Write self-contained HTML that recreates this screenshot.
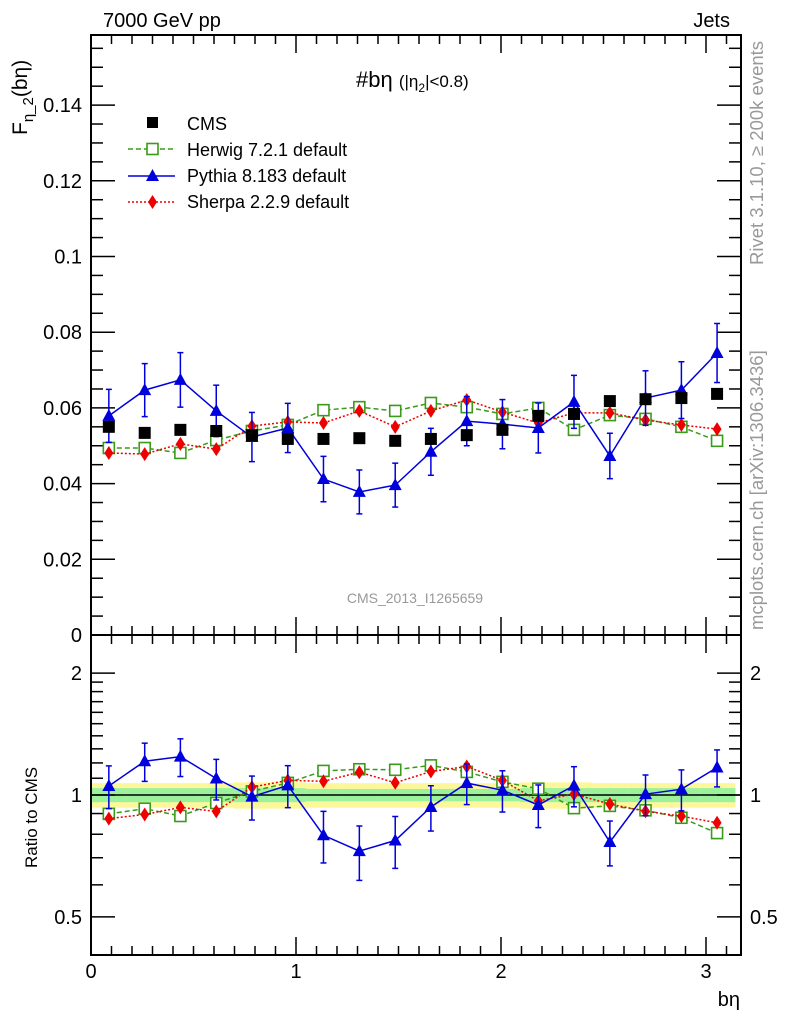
<!DOCTYPE html>
<html><head><meta charset="utf-8"><style>
body{margin:0;background:#fff;width:786px;height:1024px;overflow:hidden}
svg{display:block;font-family:"Liberation Sans",sans-serif}
</style></head><body>
<svg id="c" width="786" height="1024" xmlns="http://www.w3.org/2000/svg"></svg>
<script>
const xCenters=[0.087,0.262,0.436,0.611,0.785,0.960,1.134,1.309,1.484,1.658,1.833,2.007,2.182,2.356,2.531,2.705,2.880,3.054];
const cmsVals=[0.0550,0.0534,0.0542,0.0539,0.0528,0.0518,0.0518,0.0520,0.0513,0.0518,0.0528,0.0542,0.0579,0.0584,0.0618,0.0623,0.0626,0.0637];
const herwigVals=[0.0494,0.0494,0.0481,0.0515,0.0539,0.0555,0.0594,0.0602,0.0592,0.0613,0.0602,0.0584,0.0600,0.0542,0.0581,0.0571,0.0550,0.0513];
const pythiaVals=[0.0579,0.0647,0.0674,0.0592,0.0523,0.0547,0.0412,0.0378,0.0396,0.0484,0.0565,0.0557,0.0547,0.0616,0.0473,0.0626,0.0647,0.0745];
const pythiaErr=[0.0070,0.0070,0.0072,0.0068,0.0065,0.0065,0.0060,0.0058,0.0058,0.0062,0.0065,0.0065,0.0066,0.0070,0.0060,0.0072,0.0075,0.0078];
const sherpaVals=[0.0481,0.0478,0.0505,0.0491,0.0552,0.0563,0.0560,0.0592,0.0550,0.0592,0.0621,0.0589,0.0560,0.0587,0.0587,0.0568,0.0555,0.0544];
const bandInner=[0.04,0.04,0.04,0.04,0.04,0.04,0.035,0.035,0.035,0.035,0.035,0.035,0.04,0.04,0.04,0.04,0.04,0.04];
const bandOuter=[0.07,0.07,0.07,0.07,0.075,0.075,0.07,0.07,0.07,0.07,0.07,0.07,0.075,0.075,0.07,0.07,0.07,0.07];
const mainTicks=[0,0.02,0.04,0.06,0.08,0.1,0.12,0.14];
const ratioTicks=[0.5,1,2];
const xTicks=[0,1,2,3];

const NS="http://www.w3.org/2000/svg",svg=document.getElementById('c');
const L=91,R=741,MT=35,MB=635,RB=955;
const X=v=>L+v*205;
const Y=v=>MB-v/0.02*75.7;
const YR=v=>795-Math.log10(v)*405;
function el(t,a,p){const e=document.createElementNS(NS,t);for(const k in a)e.setAttribute(k,a[k]);(p||svg).appendChild(e);return e;}
function txt(s,x,y,a){const e=el('text',Object.assign({x:x,y:y,'font-size':20,fill:'#000'},a||{}));e.textContent=s;return e;}

const bw=Math.PI/18;
xCenters.forEach((c,i)=>{
 const o=el('rect',{x:X(c-bw/2),y:YR(1+bandOuter[i]),width:X(bw)-L+0.5,height:YR(1-bandOuter[i])-YR(1+bandOuter[i]),fill:'#fdf79c'});
 
 
 const n=el('rect',{x:X(c-bw/2),y:YR(1+bandInner[i]),width:X(bw)-L+0.5,height:YR(1-bandInner[i])-YR(1+bandInner[i]),fill:'#9cf19c'});
 
 
});
el('line',{x1:L,x2:R,y1:YR(1),y2:YR(1),stroke:'#000','stroke-width':1.5,});

el('rect',{x:L,y:MT,width:R-L,height:MB-MT,fill:'none',stroke:'#000','stroke-width':2,});
el('rect',{x:L,y:MB,width:R-L,height:RB-MB,fill:'none',stroke:'#000','stroke-width':2,});

const tg=el('g',{stroke:'#000','stroke-width':1.5,});
for(let v=0;v<=0.157;v+=0.005){const y=Y(v);const maj=Math.abs(v/0.02-Math.round(v/0.02))<1e-6;const l=maj?24:12;
 el('line',{x1:L,x2:L+l,y1:y,y2:y},tg);el('line',{x1:R,x2:R-l,y1:y,y2:y},tg);}
[0.5,0.6,0.7,0.8,0.9,1,1.1,1.2,1.3,1.4,1.5,1.6,1.7,1.8,1.9,2].forEach(v=>{const y=YR(v);const maj=ratioTicks.includes(v);const l=maj?24:12;
 el('line',{x1:L,x2:L+l,y1:y,y2:y},tg);el('line',{x1:R,x2:R-l,y1:y,y2:y},tg);});
for(let k=0;k<=31;k++){const v=k/10,x=X(v);const maj=k%10==0;const l=maj?18:9;
 el('line',{x1:x,x2:x,y1:MB,y2:MB-l},tg);el('line',{x1:x,x2:x,y1:MT,y2:MT+l},tg);
 el('line',{x1:x,x2:x,y1:RB,y2:RB-l},tg);el('line',{x1:x,x2:x,y1:MB,y2:MB+l},tg);}

mainTicks.forEach(v=>{const t=txt(v===0?'0':String(v),82,Y(v)+7,{'text-anchor':'end'});
 });
ratioTicks.forEach(v=>{const t=txt(String(v),82,YR(v)+7,{'text-anchor':'end'});
 
 const t2=txt(String(v),750,YR(v)+7);});
xTicks.forEach(v=>{const t=txt(String(v),X(v),978,{'text-anchor':'middle'});
 });

function marker(type,x,y,g){
 if(type==='sq')return el('rect',{x:x-6,y:y-6,width:12,height:12,fill:'#000'},g);
 if(type==='osq')return el('rect',{x:x-5.5,y:y-5.5,width:11,height:11,fill:'#fff',stroke:'#3a9a1a','stroke-width':1.6},g);
 if(type==='tri')return el('polygon',{points:`${x},${y-7} ${x-6.5},${y+5} ${x+6.5},${y+5}`,fill:'#0000dd'},g);
 if(type==='dia')return el('polygon',{points:`${x},${y-7} ${x-4.5},${y} ${x},${y+7} ${x+4.5},${y}`,fill:'#ee0000'},g);
}
function series(vals,err,yf,color,dash,mk,name,ratio){
 const g=el('g',{});
 const pts=vals.map((v,i)=>{const r=ratio?v/cmsVals[i]:v;return [X(xCenters[i]),yf(r)];});
 if(color)el('polyline',{points:pts.map(p=>p.join(',')).join(' '),fill:'none',stroke:color,'stroke-width':1.5,'stroke-dasharray':dash||''},g);
 if(err)vals.forEach((v,i)=>{const s=ratio?cmsVals[i]:1;const x=pts[i][0],y1=yf((v+err[i])/s),y2=yf((v-err[i])/s);
  el('line',{x1:x,x2:x,y1:y1,y2:y2,stroke:color,'stroke-width':1.5},g);
  el('line',{x1:x-3,x2:x+3,y1:y1,y2:y1,stroke:color,'stroke-width':1.5},g);
  el('line',{x1:x-3,x2:x+3,y1:y2,y2:y2,stroke:color,'stroke-width':1.5},g);});
 pts.forEach(p=>{const m=marker(mk,p[0],p[1],g);
  
  });
}
series(herwigVals,null,Y,'#3a9a1a','5,3','osq','herwig-series',false);
series(sherpaVals,null,Y,'#ee0000','2,2','dia','sherpa-series',false);
series(pythiaVals,pythiaErr,Y,'#0000dd','','tri','pythia-series',false);
series(cmsVals,null,Y,null,'','sq','cms-series',false);
series(herwigVals,null,YR,'#3a9a1a','5,3','osq','herwig-ratio',true);
series(sherpaVals,null,YR,'#ee0000','2,2','dia','sherpa-ratio',true);
series(pythiaVals,pythiaErr,YR,'#0000dd','','tri','pythia-ratio',true);
</script>
<svg width="786" height="1024" style="position:absolute;left:0;top:0" xmlns="http://www.w3.org/2000/svg" font-family="Liberation Sans, sans-serif">
<text x="103" y="27" font-size="20">7000 GeV pp</text>
<text x="730" y="27" font-size="20" text-anchor="end">Jets</text>
<text x="356" y="87" font-size="22">#bη <tspan font-size="17">(|η</tspan><tspan font-size="12" dy="5">2</tspan><tspan font-size="17" dy="-5">|&lt;0.8)</tspan></text>
<g font-size="18">
 <rect x="147" y="117" width="11" height="11" fill="#000"/><text x="187" y="130">CMS</text>
 <line x1="128" x2="175" y1="149" y2="149" stroke="#3a9a1a" stroke-width="1.5" stroke-dasharray="5,3"/><rect x="147" y="143.5" width="11" height="11" fill="#fff" stroke="#3a9a1a" stroke-width="1.6"/><text x="187" y="156">Herwig 7.2.1 default</text>
 <line x1="128" x2="175" y1="176" y2="176" stroke="#0000dd" stroke-width="1.5"/><polygon points="152.5,169 146,181 159,181" fill="#0000dd"/><text x="187" y="182">Pythia 8.183 default</text>
 <line x1="128" x2="175" y1="202" y2="202" stroke="#ee0000" stroke-width="1.5" stroke-dasharray="2,2"/><polygon points="152.5,195 148,202 152.5,209 157,202" fill="#ee0000"/><text x="187" y="208">Sherpa 2.2.9 default</text>
</g>
<text x="415" y="603" font-size="14" fill="#999" text-anchor="middle">CMS_2013_I1265659</text>
<text transform="translate(763,265) rotate(-90)" font-size="18.5" fill="#999">Rivet 3.1.10, ≥ 200k events</text>
<text transform="translate(763,630) rotate(-90)" font-size="18.5" fill="#999">mcplots.cern.ch [arXiv:1306.3436]</text>
<text transform="translate(27,135) rotate(-90)" font-size="21">F<tspan font-size="15" dy="6">η_2</tspan><tspan dy="-6">(bη)</tspan></text>
<text transform="translate(37,868) rotate(-90)" font-size="17">Ratio to CMS</text>
<text x="740" y="1006" font-size="20" text-anchor="end">bη</text>
</svg>
</body></html>
